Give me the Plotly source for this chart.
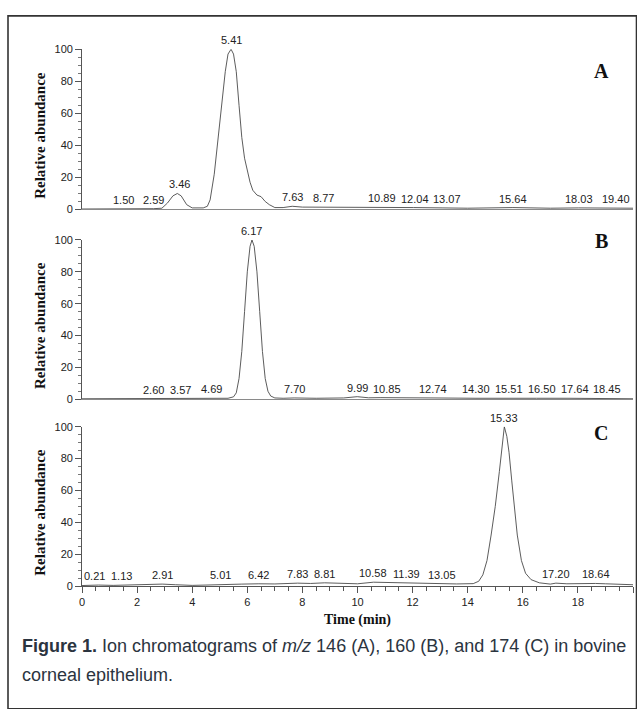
import numpy as np
import plotly.graph_objects as go

# ---------------- data ----------------
# Panel A : m/z 146
a_time = [0, 0.5, 1.0, 1.5, 2.0, 2.59, 2.9, 3.1, 3.3, 3.46, 3.6, 3.8, 4.0, 4.4, 4.55,
          4.65, 4.8, 4.95, 5.1, 5.2, 5.3, 5.41, 5.5, 5.6, 5.7, 5.8, 5.9, 6.0, 6.1, 6.2,
          6.35, 6.5, 6.65, 6.8, 7.0, 7.3, 7.63, 8.0, 8.77, 9.5, 10.89, 12.04, 13.07, 14.0,
          15.64, 16.0, 17.0, 18.03, 19.4, 20.0]
a_abund = [0.3, 0.3, 0.4, 0.6, 0.4, 0.5, 0.8, 4, 8.5, 10, 8.5, 3, 1, 1, 2,
           6, 22, 45, 72, 86, 97, 100, 97, 86, 65, 45, 32, 25, 17, 12,
           9, 8, 5, 3, 1.2, 1.2, 2, 1.5, 1.5, 1.2, 1.3, 1.2, 1.0, 0.8,
           1.2, 1.0, 0.8, 1.0, 1.0, 0.8]
a_peaks = [1.50, 2.59, 3.46, 5.41, 7.63, 8.77, 10.89, 12.04, 13.07, 15.64, 18.03, 19.40]

# Panel B : m/z 160
b_time = [0, 1, 2, 2.6, 3.57, 4.69, 5.3, 5.5, 5.6, 5.7, 5.8, 5.9, 6.0, 6.1, 6.17, 6.25,
          6.35, 6.45, 6.55, 6.65, 6.75, 6.85, 7.0, 7.3, 7.7, 8.5, 9.5, 9.99, 10.4, 10.85,
          12.0, 12.74, 14.3, 15.51, 16.5, 17.64, 18.45, 19.5, 20.0]
b_abund = [0.3, 0.3, 0.3, 0.4, 0.4, 0.5, 0.6, 1.5, 4, 13, 30, 55, 80, 96, 100, 96,
           80, 55, 30, 13, 5, 2, 0.8, 0.6, 0.8, 0.6, 0.8, 1.6, 0.9, 1.0,
           0.7, 0.8, 0.6, 0.8, 0.6, 0.6, 0.6, 0.4, 0.3]
b_peaks = [2.60, 3.57, 4.69, 6.17, 7.70, 9.99, 10.85, 12.74, 14.30, 15.51, 16.50, 17.64, 18.45]

# Panel C : m/z 174
c_time = [0, 0.21, 0.6, 1.13, 1.6, 2.2, 2.91, 3.4, 4.0, 4.5, 5.01, 5.8, 6.42, 7.0, 7.83,
          8.3, 8.81, 9.4, 10.0, 10.58, 11.0, 11.39, 12.0, 12.5, 13.05, 13.6, 14.2, 14.4,
          14.55, 14.7, 14.85, 15.0, 15.15, 15.25, 15.33, 15.42, 15.5, 15.6, 15.7, 15.8,
          15.95, 16.1, 16.3, 16.6, 17.0, 17.2, 17.6, 18.0, 18.64, 19.0, 19.5, 20.0]
c_abund = [0.3, 0.5, 0.6, 0.4, 0.5, 1.0, 1.2, 0.8, 0.4, 0.6, 1.0, 1.2, 1.4, 1.3, 1.8,
           1.6, 2.0, 1.5, 1.4, 2.4, 2.2, 2.0, 1.8, 1.6, 1.5, 1.3, 1.5, 3,
           7, 16, 32, 50, 72, 88, 100, 94, 84, 66, 48, 32,
           16, 8, 4, 2, 1.2, 1.8, 1.4, 1.6, 1.6, 1.4, 1.2, 0.8]
c_peaks = [0.21, 1.13, 2.91, 5.01, 6.42, 7.83, 8.81, 10.58, 11.39, 13.05, 15.33, 17.20, 18.64]

panel_letters = ["A", "B", "C"]
y_ticks = [0, 20, 40, 60, 80, 100]
x_ticks = [0, 2, 4, 6, 8, 10, 12, 14, 16, 18, 20]
y_title = "Relative abundance"
x_title = "Time (min)"
caption_1 = "<b>Figure 1.</b> Ion chromatograms of <i>m/z</i> 146 (A), 160 (B), and 174 (C) in bovine"
caption_2 = "corneal epithelium."

# ---------------- layout geometry ----------------
W, H = 637, 709
L, R = 82, 4
PW = W - L - R
XMAX = 20.0


def py(pix):
    return 1 - pix / H


def px(pix):
    return (pix - L) / PW


# pixel rows of value 0 / value 100 for each panel
rows = [(207, 44), (400, 238), (590, 428)]
letter_rows = [66, 239, 434]

panels = [(a_time, a_abund, a_peaks), (b_time, b_abund, b_peaks), (c_time, c_abund, c_peaks)]

fig = go.Figure()
SERIF = "Liberation Serif, Times New Roman, serif"
SANS = "Liberation Sans, Arial, sans-serif"
LBL = 11

annotations = []
for i, (t, v, peaks) in enumerate(panels):
    n = "" if i == 0 else str(i + 1)
    fig.add_trace(go.Scatter(x=t, y=v, mode="lines", xaxis="x" + n, yaxis="y" + n,
                             line=dict(color="#4a4a4a", width=0.9), showlegend=False,
                             hoverinfo="skip"))
    bottom = i == 2
    fig.update_layout(**{
        "xaxis" + n: dict(domain=[0, 1], range=[0, XMAX], anchor="y" + n,
                          showline=True, linecolor="#8a8a8a" if not bottom else "#555",
                          linewidth=0.8, showgrid=False, zeroline=False,
                          tickvals=x_ticks if bottom else [],
                          showticklabels=bottom, ticks="outside" if bottom else "",
                          ticklen=6, tickwidth=0.8, tickcolor="#555",
                          minor=dict(dtick=0.5, ticklen=4, ticks="outside" if bottom else "",
                                     tickcolor="#555", tickwidth=0.8),
                          tickfont=dict(family=SANS, size=11, color="#222")),
        "yaxis" + n: dict(domain=[py(rows[i][0]), py(rows[i][1])], range=[0, 100],
                          anchor="x" + n, showline=True, linecolor="#555", linewidth=0.8,
                          showgrid=False, zeroline=False, tickvals=y_ticks,
                          ticks="outside", ticklen=6, tickwidth=0.8, tickcolor="#555",
                          minor=dict(dtick=5, ticklen=3, ticks="outside",
                                     tickcolor="#777", tickwidth=0.7),
                          tickfont=dict(family=SANS, size=11, color="#222")),
    })
    # peak labels: pushed right where they would collide (as the instrument software does)
    prev_right = L - 3
    for p in peaks:
        val = float(np.interp(p, t, v))
        text = f"{p:.2f}"
        w = 0.56 * LBL * (len(text) - 1) + 0.28 * LBL
        cx = L + p / XMAX * PW
        shift = max(0.0, prev_right + 5 - (cx - w / 2))
        prev_right = cx + shift + w / 2
        annotations.append(dict(x=p, y=val, xref="x" + n, yref="y" + n, text=text,
                                showarrow=False, xanchor="center", yanchor="bottom",
                                yshift=1, xshift=shift,
                                font=dict(family=SANS, size=LBL, color="#222")))
    # y title
    annotations.append(dict(x=px(40), y=0.46, xref="paper", yref=f"y{n} domain",
                            text=f"<b>{y_title}</b>", textangle=-90, showarrow=False,
                            xanchor="center", yanchor="middle",
                            font=dict(family=SERIF, size=15, color="#111")))
    # panel letter
    annotations.append(dict(x=px(601), y=py(letter_rows[i]), xref="paper", yref="paper",
                            text=f"<b>{panel_letters[i]}</b>", showarrow=False,
                            xanchor="center", yanchor="middle",
                            font=dict(family=SERIF, size=20, color="#111")))

annotations.append(dict(x=px(357), y=py(625), xref="paper", yref="paper",
                        text=f"<b>{x_title}</b>", showarrow=False,
                        xanchor="center", yanchor="middle",
                        font=dict(family=SERIF, size=14, color="#111")))
annotations.append(dict(x=px(20), y=py(651), xref="paper", yref="paper", text=caption_1,
                        showarrow=False, xanchor="left", yanchor="middle",
                        font=dict(family=SANS, size=18, color="#2b3440")))
annotations.append(dict(x=px(20), y=py(681), xref="paper", yref="paper", text=caption_2,
                        showarrow=False, xanchor="left", yanchor="middle",
                        font=dict(family=SANS, size=18, color="#2b3440")))

fig.update_layout(
    width=W, height=H,
    margin=dict(l=L, r=R, t=0, b=0),
    paper_bgcolor="white", plot_bgcolor="white",
    annotations=annotations,
    shapes=[dict(type="rect", xref="paper", yref="paper",
                 x0=px(8), x1=px(636.5), y0=py(715), y1=py(10),
                 line=dict(color="#333", width=1.6), fillcolor="rgba(0,0,0,0)")],
)

fig.write_html("out.html", config={"displayModeBar": False},
               post_script="document.body.style.margin='0';document.body.style.overflow='hidden';")
